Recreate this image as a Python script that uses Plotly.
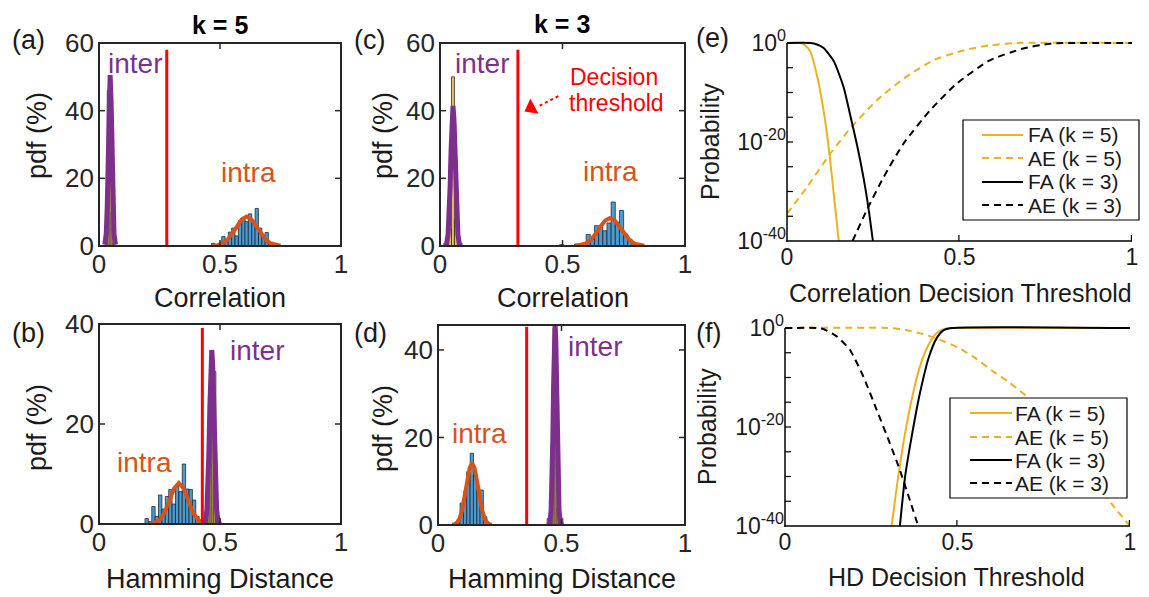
import plotly.graph_objects as go

W, H = 1149, 597
ML, MR, MT, MB = 10, 10, 10, 10
FONT = "Liberation Sans, Arial, Helvetica, sans-serif"

# ======================= DATA =======================
a_intra_x = [0.472, 0.486, 0.500, 0.514, 0.527, 0.541, 0.555, 0.569, 0.583, 0.597,
             0.610, 0.624, 0.638, 0.652, 0.666, 0.680, 0.693, 0.707]
a_intra_y = [0.8, 0.4, 0.5, 2.8, 1.8, 4.1, 5.3, 3.0, 7.5, 7.8,
             7.2, 9.5, 7.0, 11.1, 5.3, 2.5, 4.0, 0.8]
a_intra_w = 0.0138
a_inter_x = [0.030, 0.038, 0.046, 0.054, 0.062]
a_inter_y = [2.0, 46.0, 40.0, 10.0, 1.0]
a_inter_w = 0.008
a_intra_fit_x = [0.47, 0.49, 0.51, 0.53, 0.55, 0.57, 0.59, 0.61, 0.63, 0.65, 0.67, 0.69, 0.71, 0.73, 0.75]
a_intra_fit_y = [0.07, 0.25, 0.74, 1.8, 3.6, 5.9, 7.9, 8.7, 7.9, 5.9, 3.6, 1.8, 0.74, 0.25, 0.07]
a_inter_fit_x = [0.024, 0.030, 0.034, 0.038, 0.042, 0.046, 0.050, 0.054, 0.058, 0.062, 0.068]
a_inter_fit_y = [0.4, 3.7, 11.5, 26, 42.6, 50.5, 42.6, 26, 11.5, 3.7, 0.4]

b_intra_x = [0.197, 0.211, 0.225, 0.239, 0.253, 0.267, 0.281, 0.295, 0.309, 0.323,
             0.337, 0.351, 0.365, 0.379, 0.393, 0.407]
b_intra_y = [1.1, 0.5, 3.5, 1.5, 5.8, 3.0, 5.5, 6.9, 4.0, 7.5,
             6.5, 12.0, 7.0, 6.9, 4.8, 1.5]
b_intra_w = 0.014
b_inter_x = [0.455, 0.463, 0.471, 0.479, 0.487]
b_inter_y = [6.0, 22.0, 33.0, 30.5, 3.0]
b_inter_w = 0.008
b_intra_fit_x = [0.21, 0.23, 0.25, 0.27, 0.29, 0.31, 0.33, 0.35, 0.37, 0.39, 0.41, 0.43, 0.45]
b_intra_fit_y = [0.04, 0.21, 0.79, 2.2, 4.57, 7.09, 8.2, 7.09, 4.57, 2.2, 0.79, 0.21, 0.04]
b_inter_fit_x = [0.432, 0.440, 0.446, 0.450, 0.454, 0.458, 0.462, 0.466, 0.470, 0.474,
                 0.478, 0.482, 0.486, 0.492, 0.500]
b_inter_fit_y = [0.03, 0.54, 2.9, 7.2, 14.3, 23.4, 31.5, 34.8, 31.5, 23.4,
                 14.3, 7.2, 2.9, 0.54, 0.03]

c_intra_x = [0.497, 0.558, 0.605, 0.622, 0.639, 0.656, 0.673, 0.690, 0.707, 0.724, 0.741, 0.758, 0.775]
c_intra_y = [0.4, 0.6, 3.4, 2.0, 6.0, 5.5, 4.5, 6.8, 13.0, 7.0, 10.5, 3.5, 2.0]
c_intra_w = 0.017
c_inter_x = [0.041, 0.053, 0.065]
c_inter_y = [5.0, 50.0, 8.0]
c_inter_w = 0.012
c_intra_fit_x = [0.554, 0.574, 0.594, 0.614, 0.634, 0.654, 0.674, 0.694, 0.714, 0.734,
                 0.754, 0.774, 0.794, 0.814, 0.834]
c_intra_fit_y = [0.065, 0.24, 0.70, 1.72, 3.43, 5.63, 7.55, 8.3, 7.55, 5.63,
                 3.43, 1.72, 0.70, 0.24, 0.065]
c_inter_fit_x = [0.019, 0.027, 0.033, 0.037, 0.041, 0.045, 0.049, 0.053, 0.057, 0.061,
                 0.065, 0.069, 0.073, 0.079, 0.087]
c_inter_fit_y = [0.04, 0.64, 3.45, 8.6, 17.0, 27.8, 37.5, 41.4, 37.5, 27.8,
                 17.0, 8.6, 3.45, 0.64, 0.04]

d_intra_x = [0.082, 0.096, 0.110, 0.123, 0.137, 0.150, 0.164, 0.177, 0.191, 0.204]
d_intra_y = [0.5, 5.0, 7.6, 12.2, 16.4, 11.4, 8.0, 8.0, 1.9, 0.3]
d_intra_w = 0.0135
d_inter_x = [0.446, 0.462, 0.470, 0.478, 0.486, 0.502]
d_inter_y = [1.5, 3.0, 45.0, 42.0, 4.0, 1.5]
d_inter_w = 0.008
d_intra_fit_x = [0.058, 0.068, 0.078, 0.088, 0.098, 0.108, 0.118, 0.128, 0.138, 0.148,
                 0.158, 0.168, 0.178, 0.188, 0.198, 0.208, 0.218]
d_intra_fit_y = [0.05, 0.2, 0.62, 1.62, 3.5, 6.5, 10.0, 13.0, 14.2, 13.0,
                 10.0, 6.5, 3.5, 1.62, 0.62, 0.2, 0.05]
d_inter_fit_x = [0.446, 0.453, 0.458, 0.462, 0.465, 0.468, 0.471, 0.474, 0.477, 0.480,
                 0.483, 0.486, 0.490, 0.495, 0.502]
d_inter_fit_y = [0.02, 0.5, 3.4, 10.6, 20.1, 31.9, 42, 46, 42, 31.9,
                 20.1, 10.6, 3.4, 0.5, 0.02]

thr_x = [0.28, 0.427, 0.318, 0.359]
thr_top = [58, 39.2, 58, 45.3]

e_fa5_x = [0, 0.039, 0.053, 0.068, 0.087, 0.106, 0.123, 0.137, 0.150]
e_fa5_exp = [0, 0, -0.5, -1.8, -6.6, -13.6, -22.4, -31.5, -40]
e_ae5_x = [0, 0.058, 0.125, 0.183, 0.26, 0.338, 0.424, 0.511, 0.588, 0.665, 1.0]
e_ae5_exp = [-34.5, -29.1, -22.4, -17.3, -11.6, -7.2, -3.5, -1.5, -0.47, 0, 0]
e_fa3_x = [0, 0.068, 0.087, 0.106, 0.135, 0.164, 0.183, 0.203, 0.222, 0.236, 0.249]
e_fa3_exp = [0, 0, -0.3, -1.0, -3.6, -8.9, -14.5, -20.6, -27.3, -33.3, -40]
e_ae3_x = [0.19, 0.231, 0.28, 0.338, 0.415, 0.492, 0.588, 0.685, 0.762, 0.80, 1.0]
e_ae3_exp = [-40, -33.8, -27.1, -20.3, -13.6, -8.2, -3.5, -1.1, -0.13, 0, 0]

f_fa5_x = [0.309, 0.324, 0.343, 0.367, 0.391, 0.416, 0.44, 0.464, 0.478, 1.0]
f_fa5_exp = [-40, -32.1, -23.3, -14.5, -7.8, -3.4, -1.0, -0.14, 0, 0]
f_ae5_x = [0, 0.30, 0.35, 0.40, 0.45, 0.50, 0.55, 0.60, 0.65, 0.70, 0.75, 0.80, 0.85, 0.90, 0.95, 1.0]
f_ae5_exp = [0, 0, -0.4, -1.2, -2.4, -3.9, -6.0, -8.6, -11.0, -13.8, -17.3, -21.5, -26.3, -31.2, -35.8, -40.0]
f_fa3_x = [0.333, 0.348, 0.367, 0.391, 0.416, 0.44, 0.459, 0.483, 1.0]
f_fa3_exp = [-40, -30.1, -22.0, -13.2, -6.1, -2.0, -0.47, 0, 0]
f_ae3_x = [0, 0.092, 0.111, 0.15, 0.188, 0.227, 0.266, 0.304, 0.333, 0.362, 0.386]
f_ae3_exp = [0, 0, -0.2, -1.7, -4.4, -9.8, -16.6, -23.3, -28.7, -34.8, -40]

legend_names = ["FA (k = 5)", "AE (k = 5)", "FA (k = 3)", "AE (k = 3)"]
x_ticks = [0, 0.5, 1]
x_ticktext = ["0", "0.5", "1"]
log_major_exp = [-40, -20, 0]
log_major_text = ["10<sup>-40</sup>", "10<sup>-20</sup>", "10<sup>0</sup>"]
log_all_tick_exp = [-40, -35, -30, -25, -20, -15, -10, -5, 0]

# ======================= STYLE / GEOMETRY =======================
BLUE = "#4A9AD4"
YELLOW = "#E9BE5C"
PURPLE = "#7E2F8E"
ORANGE = "#D95319"
GOLD = "#EDB120"
RED = "#FF0000"
AX = "#262626"
DASH = "7px,5px"
LOG_TOP = 0.5

BOX = {1: (99, 341, 246, 43), 2: (99, 341, 524, 324), 3: (440, 685, 246, 43), 4: (438, 685, 525, 325),
       5: (787, 1132, 241, 43), 6: (785, 1130, 526, 328)}

fig = go.Figure()
shapes = []
ann = []


def PX(px):
    return (px - ML) / (W - ML - MR)


def PY(py):
    return 1 - (py - MT) / (H - MT - MB)


def prect(x0, y0, x1, y1, fill=None, line=None, lw=0):
    shapes.append(dict(type="rect", xref="paper", yref="paper", x0=PX(x0), x1=PX(x1), y0=PY(y1), y1=PY(y0),
                       fillcolor=fill or "rgba(0,0,0,0)", line=dict(color=line or "rgba(0,0,0,0)", width=lw),
                       layer="above"))


def pline(x0, y0, x1, y1, color, width, dash="solid"):
    shapes.append(dict(type="line", xref="paper", yref="paper", x0=PX(x0), y0=PY(y0), x1=PX(x1), y1=PY(y1),
                       line=dict(color=color, width=width, dash=dash), layer="above"))


def ax_names(i):
    return ("x" if i == 1 else f"x{i}"), ("y" if i == 1 else f"y{i}")


def pdf_panel(i, ix, iy, iw, ex, ey, ew, ifx, ify, efx, efy, thr, top, yrange, yticks):
    xa, ya = ax_names(i)
    kw = dict(xaxis=xa, yaxis=ya, showlegend=False, hoverinfo="skip")
    fig.add_trace(go.Bar(x=ix, y=iy, width=iw, marker=dict(color=BLUE, line=dict(color="#1a1a1a", width=0.7)), **kw))
    fig.add_trace(go.Bar(x=ex, y=ey, width=ew, marker=dict(color=YELLOW, line=dict(color="#1a1a1a", width=0.7)), **kw))
    fig.add_trace(go.Scatter(x=ifx, y=ify, mode="lines", line=dict(color=ORANGE, width=4), **kw))
    fig.add_trace(go.Scatter(x=efx, y=efy, mode="lines", line=dict(color=PURPLE, width=5), **kw))
    fig.add_trace(go.Scatter(x=[thr, thr], y=[0, top], mode="lines", line=dict(color=RED, width=3), **kw))
    l, r, b, t = BOX[i]
    y0, y1 = yrange
    # frame drawn as four thin filled bars plus inside ticks
    prect(l - 1, t - 1, r + 1, t + 1, fill=AX)
    prect(l - 1, b - 1, r + 1, b + 1, fill=AX)
    prect(l - 1, t - 1, l + 1, b + 1, fill=AX)
    prect(r - 1, t - 1, r + 1, b + 1, fill=AX)
    for tv in x_ticks[1:-1]:
        px = l + tv * (r - l)
        prect(px - 0.75, b - 6, px + 0.75, b, fill=AX)
        prect(px - 0.75, t, px + 0.75, t + 6, fill=AX)
    for tv in yticks:
        py = b - (tv - y0) / (y1 - y0) * (b - t)
        prect(l, py - 0.75, l + 6, py + 0.75, fill=AX)
        prect(r - 6, py - 0.75, r, py + 0.75, fill=AX)


pdf_panel(1, a_intra_x, a_intra_y, a_intra_w, a_inter_x, a_inter_y, a_inter_w,
          a_intra_fit_x, a_intra_fit_y, a_inter_fit_x, a_inter_fit_y, thr_x[0], thr_top[0], [0, 60], [20, 40])
pdf_panel(2, b_intra_x, b_intra_y, b_intra_w, b_inter_x, b_inter_y, b_inter_w,
          b_intra_fit_x, b_intra_fit_y, b_inter_fit_x, b_inter_fit_y, thr_x[1], thr_top[1], [0, 40], [20])
pdf_panel(3, c_intra_x, c_intra_y, c_intra_w, c_inter_x, c_inter_y, c_inter_w,
          c_intra_fit_x, c_intra_fit_y, c_inter_fit_x, c_inter_fit_y, thr_x[2], thr_top[2], [0, 60], [20, 40])
pdf_panel(4, d_intra_x, d_intra_y, d_intra_w, d_inter_x, d_inter_y, d_inter_w,
          d_intra_fit_x, d_intra_fit_y, d_inter_fit_x, d_inter_fit_y, thr_x[3], thr_top[3], [0, 45.7], [20, 40])

fig.add_trace(go.Scatter(x=[0.483, 0.405], y=[44.3, 41.4], mode="lines",
                         line=dict(color=RED, width=2, dash="dot"), xaxis="x3", yaxis="y3",
                         showlegend=False, hoverinfo="skip"))
fig.add_trace(go.Scatter(x=[0.372], y=[40.8], mode="markers",
                         marker=dict(symbol="triangle-left", size=15, angle=-28, color=RED),
                         xaxis="x3", yaxis="y3", showlegend=False, hoverinfo="skip"))

STYLES = [(GOLD, "solid"), (GOLD, DASH), ("black", "solid"), ("black", DASH)]


def prob_panel(i, series):
    xa, ya = ax_names(i)
    kw = dict(xaxis=xa, yaxis=ya, showlegend=False, hoverinfo="skip")
    for (xs, es), name, (col, dash) in zip(series, legend_names, STYLES):
        fig.add_trace(go.Scatter(x=xs, y=[10.0 ** e for e in es], mode="lines", name=name,
                                 line=dict(color=col, width=2, dash=dash, shape="spline", smoothing=0.6), **kw))
    l, r, b, t = BOX[i]
    lo, hi = log_all_tick_exp[0], log_all_tick_exp[-1]
    prect(l - 0.75, t, l + 0.75, b + 0.75, fill="black")
    prect(l - 0.75, b - 0.75, r, b + 0.75, fill="black")
    for tv in x_ticks[1:]:
        px = l + tv * (r - l)
        prect(px - 1.2, b - 6, px, b, fill="black")
    for e in log_all_tick_exp[1:]:
        py = b - (e - lo) / (hi - lo) * (b - t)
        prect(l, py - 0.6, l + 6, py + 0.6, fill="black")


prob_panel(5, [(e_fa5_x, e_fa5_exp), (e_ae5_x, e_ae5_exp), (e_fa3_x, e_fa3_exp), (e_ae3_x, e_ae3_exp)])
prob_panel(6, [(f_fa5_x, f_fa5_exp), (f_ae5_x, f_ae5_exp), (f_fa3_x, f_fa3_exp), (f_ae3_x, f_ae3_exp)])


# ======================= LAYOUT =======================
def xd(i):
    l, r, b, t = BOX[i]
    return [PX(l), PX(r)]


def yd(i, headroom_px=0.0):
    l, r, b, t = BOX[i]
    return [PY(b), PY(t - headroom_px)]


pdf_tickfont = dict(family=FONT, size=26, color=AX)
prob_tickfont = dict(family=FONT, size=23, color="#1a1a1a")
common = dict(showline=False, ticks="", showgrid=False, zeroline=False)


def pdf_x(i, anchor):
    return dict(domain=xd(i), anchor=anchor, range=[0, 1], tickvals=x_ticks, ticktext=x_ticktext,
                tickfont=pdf_tickfont, **common)


def pdf_y(i, anchor, rng, tv):
    return dict(domain=yd(i), anchor=anchor, range=rng, tickvals=tv, ticktext=[str(v) for v in tv],
                tickfont=pdf_tickfont, ticklabelstandoff=4, **common)


def prob_x(i, anchor):
    return dict(domain=xd(i), anchor=anchor, range=[0, 1], tickvals=x_ticks, ticktext=x_ticktext,
                tickfont=prob_tickfont, **common)


def prob_y(i, anchor):
    l, r, b, t = BOX[i]
    head = (b - t) * LOG_TOP / (log_all_tick_exp[-1] - log_all_tick_exp[0])
    return dict(domain=yd(i, head), anchor=anchor, type="log", range=[log_all_tick_exp[0], LOG_TOP],
                tickvals=[10.0 ** v for v in log_major_exp], ticktext=log_major_text,
                tickfont=prob_tickfont, **common)


def text(t, px, py, size, color="#1a1a1a", bold=False, angle=0, xanchor="center"):
    ann.append(dict(text=(f"<b>{t}</b>" if bold else t), x=PX(px), y=PY(py), xref="paper", yref="paper",
                    xanchor=xanchor, yanchor="middle", showarrow=False, textangle=angle,
                    font=dict(family=FONT, size=size, color=color)))


def dtext(t, x, y, xref, yref, size, color):
    ann.append(dict(text=t, x=x, y=y, xref=xref, yref=yref, xanchor="center", yanchor="middle",
                    showarrow=False, font=dict(family=FONT, size=size, color=color)))


text("(a)", 28, 40, 27)
text("(b)", 28, 333, 27)
text("(c)", 369, 40, 27)
text("(d)", 370, 333, 27)
text("(e)", 712, 38, 27)
text("(f)", 708, 333, 27)
text("k = 5", 220, 25, 25, "black", bold=True)
text("k = 3", 562, 24, 25, "black", bold=True)
text("Correlation", 220, 298, 27)
text("Correlation", 563, 298, 27)
text("Hamming Distance", 220, 579, 27)
text("Hamming Distance", 562, 579, 27)
text("pdf (%)", 37, 136, 27, angle=-90)
text("pdf (%)", 37, 428, 27, angle=-90)
text("pdf (%)", 383, 136, 27, angle=-90)
text("pdf (%)", 383, 429, 27, angle=-90)
text("Probability", 710, 142, 25, angle=-90)
text("Probability", 707, 427, 25, angle=-90)
text("Correlation Decision Threshold", 960, 293, 25)
text("HD Decision Threshold", 957, 577, 25)
dtext("inter", 0.149, 54, "x", "y", 28, PURPLE)
dtext("intra", 0.616, 21.6, "x", "y", 28, ORANGE)
dtext("inter", 0.653, 34.8, "x2", "y2", 28, PURPLE)
dtext("intra", 0.19, 12.4, "x2", "y2", 28, ORANGE)
dtext("inter", 0.171, 54, "x3", "y3", 28, PURPLE)
dtext("intra", 0.694, 21.9, "x3", "y3", 28, ORANGE)
dtext("Decision", 0.71, 50, "x3", "y3", 23, RED)
dtext("threshold", 0.722, 42.3, "x3", "y3", 23, RED)
dtext("inter", 0.636, 40.7, "x4", "y4", 28, PURPLE)
dtext("intra", 0.166, 21, "x4", "y4", 28, ORANGE)


def legend_box(left, top, right, bottom, rows, samp_l, samp_r, text_l):
    prect(left, top, right, bottom, fill="white", line="black", lw=1.2)
    for ry, name, (col, dash) in zip(rows, legend_names, STYLES):
        pline(samp_l, ry, samp_r, ry, col, 2, dash)
        text(name, text_l, ry, 21, "#1a1a1a", xanchor="left")


legend_box(963, 120, 1139, 220, [135, 158, 182, 205], 982, 1023, 1026)
legend_box(950, 398, 1127, 498, [413, 437, 460, 483], 970, 1012, 1013)

fig.update_layout(
    width=W, height=H, margin=dict(l=ML, r=MR, t=MT, b=MB, autoexpand=False),
    paper_bgcolor="white", plot_bgcolor="white", barmode="overlay", bargap=0,
    font=dict(family=FONT, color="#1a1a1a"),
    showlegend=False,
    xaxis=pdf_x(1, "y"), yaxis=pdf_y(1, "x", [0, 60], [0, 20, 40, 60]),
    xaxis2=pdf_x(2, "y2"), yaxis2=pdf_y(2, "x2", [0, 40], [0, 20, 40]),
    xaxis3=pdf_x(3, "y3"), yaxis3=pdf_y(3, "x3", [0, 60], [0, 20, 40, 60]),
    xaxis4=pdf_x(4, "y4"), yaxis4=pdf_y(4, "x4", [0, 45.7], [0, 20, 40]),
    xaxis5=prob_x(5, "y5"), yaxis5=prob_y(5, "x5"),
    xaxis6=prob_x(6, "y6"), yaxis6=prob_y(6, "x6"),
    annotations=ann, shapes=shapes,
)

fig.write_html("out.html", config={"displayModeBar": False, "staticPlot": True},
               post_script="document.body.style.margin='0';")
